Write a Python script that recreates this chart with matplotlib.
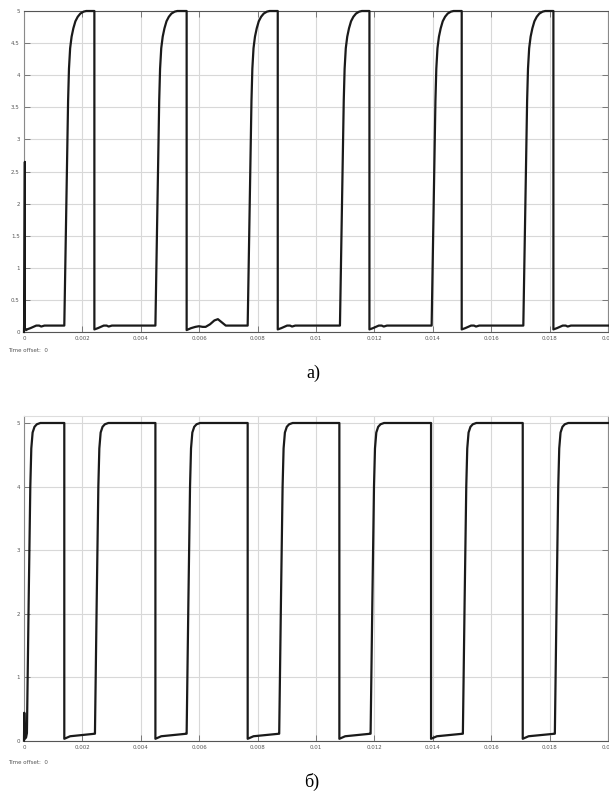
import matplotlib
matplotlib.use("Agg")
import matplotlib.pyplot as plt

# ---- data (seconds / volts) ----
# chart a)
rise_a = [0.00138, 0.0045, 0.00766, 0.01082, 0.01396, 0.0171]
fall_a = [0.00241, 0.00557, 0.00869, 0.01183, 0.01499, 0.01813]
rise_shape_a_dt = [0, 0.00005, 0.0001, 0.00013, 0.00016, 0.0002, 0.00025, 0.00031,
                   0.00038, 0.00046, 0.00055, 0.00066, 0.00075]
rise_shape_a_v = [0.1, 1.45, 2.8, 3.6, 4.1, 4.42, 4.6, 4.73, 4.84, 4.91, 4.96, 4.99, 5.0]
low_shape_a_dt = [0, 0.00012, 0.00022, 0.00032, 0.00042, 0.00049, 0.0006]
low_shape_a_v = [0.04, 0.06, 0.08, 0.1, 0.1, 0.085, 0.1]
bump_low_a_dt = [0, 0.00015, 0.0003, 0.00042, 0.00055, 0.00065, 0.0008, 0.00095, 0.00107, 0.00118, 0.00134]
bump_low_a_v = [0.03, 0.06, 0.08, 0.09, 0.08, 0.08, 0.12, 0.18, 0.2, 0.16, 0.1]
start_a_t = [0, 0.00001, 0.00003, 0.00003, 0.00008]
start_a_v = [0, 0.3, 2.65, 0.05, 0.03]

# chart б)
rise_b = [0.0001, 0.00243, 0.00557, 0.00874, 0.01187, 0.01503, 0.01818]
fall_b = [0.00138, 0.0045, 0.00766, 0.0108, 0.01394, 0.01708]
rise_shape_b_dt = [0, 0.00006, 0.000116, 0.00015, 0.000195, 0.00026, 0.00034, 0.00046]
rise_shape_b_v = [0.12, 2.2, 4.0, 4.6, 4.85, 4.94, 4.98, 5.0]
low_b_start = [0.03, 0.07]
low_b_end = 0.11
start_b_t = [0, 0.00001, 0.00003, 0.00007]
start_b_v = [0, 0.44, 0.03, 0.05]

X_END = 0.02


def build_a():
    t = list(start_a_t)
    v = list(start_a_v)
    # first low after the spike
    for dt, val in zip(low_shape_a_dt, low_shape_a_v):
        if 0.0001 + dt < rise_a[0]:
            t.append(0.0001 + dt)
            v.append(val)
    for i, (r, f) in enumerate(zip(rise_a, fall_a)):
        for dt, val in zip(rise_shape_a_dt, rise_shape_a_v):
            t.append(r + dt)
            v.append(val)
        t.append(f)
        v.append(5.0)
        nxt = rise_a[i + 1] if i + 1 < len(rise_a) else X_END
        if i == 1:
            sdt, sv = bump_low_a_dt, bump_low_a_v
        else:
            sdt, sv = low_shape_a_dt, low_shape_a_v
        for dt, val in zip(sdt, sv):
            if f + dt < nxt:
                t.append(f + dt)
                v.append(val)
        if nxt == X_END:
            t.append(X_END)
            v.append(0.1)
    return t, v


def build_b():
    t = list(start_b_t)
    v = list(start_b_v)
    for i, r in enumerate(rise_b):
        for dt, val in zip(rise_shape_b_dt, rise_shape_b_v):
            t.append(r + dt)
            v.append(val)
        if i < len(fall_b):
            f = fall_b[i]
            t.append(f)
            v.append(5.0)
            t += [f, f + 0.0002]
            v += low_b_start
            t.append(rise_b[i + 1])
            v.append(low_b_end)
        else:
            t.append(X_END)
            v.append(5.0)
    return t, v


fig = plt.figure(figsize=(6.09, 7.94), dpi=100)
W, H = 609, 794
ax1 = fig.add_axes([24 / W, 1 - 332 / H, (608 - 24) / W, (332 - 11) / H])
ax2 = fig.add_axes([24 / W, 1 - 740.7 / H, (608 - 24) / W, (740.7 - 416) / H])

xt = [0, 0.002, 0.004, 0.006, 0.008, 0.01, 0.012, 0.014, 0.016, 0.018, 0.02]
xl = ['0', '0.002', '0.004', '0.006', '0.008', '0.01', '0.012', '0.014', '0.016', '0.018', '0.02']
yt_a = [0, 0.5, 1, 1.5, 2, 2.5, 3, 3.5, 4, 4.5, 5]
yl_a = ['0', '0.5', '1', '1.5', '2', '2.5', '3', '3.5', '4', '4.5', '5']
yt_b = [0, 1, 2, 3, 4, 5]
yl_b = ['0', '1', '2', '3', '4', '5']

ta, va = build_a()
tb, vb = build_b()

for ax, (t, v), yt, yl, ytop in [(ax1, (ta, va), yt_a, yl_a, 5.0),
                                 (ax2, (tb, vb), yt_b, yl_b, 5.11)]:
    ax.plot(t, v, color='#1a1a1a', linewidth=1.6, solid_joinstyle='round', clip_on=False, zorder=3)
    ax.set_xlim(0, X_END)
    ax.set_ylim(0, ytop)
    ax.set_xticks(xt)
    ax.set_xticklabels(xl)
    ax.set_yticks(yt)
    ax.set_yticklabels(yl)
    ax.grid(True, color='#d8d8d8', linewidth=0.8)
    ax.tick_params(direction='in', top=True, right=True, length=4, width=0.7,
                   labelsize=4, labelcolor='#555555', color='#777777', pad=3)
    for s in ax.spines.values():
        s.set_color('#8a8a8a')
        s.set_linewidth(0.8)
    ax.spines['bottom'].set_color('#555555')

ax1.spines['top'].set_color('#555555')
ax2.spines['top'].set_color('#dddddd')
ax2.tick_params(top=False)

fig.text(8 / W, 1 - 350 / H, 'Time offset:  0', fontsize=4, color='#555555', va='center')
fig.text(8 / W, 1 - 762 / H, 'Time offset:  0', fontsize=4, color='#555555', va='center')

fig.text(313 / W, 1 - 373 / H, 'а)', fontsize=13, family='Liberation Serif', ha='center', va='center')
fig.text(312 / W, 1 - 782 / H, 'б)', fontsize=13, family='Liberation Serif', ha='center', va='center')

fig.savefig('out.png', dpi=100, facecolor='white')
